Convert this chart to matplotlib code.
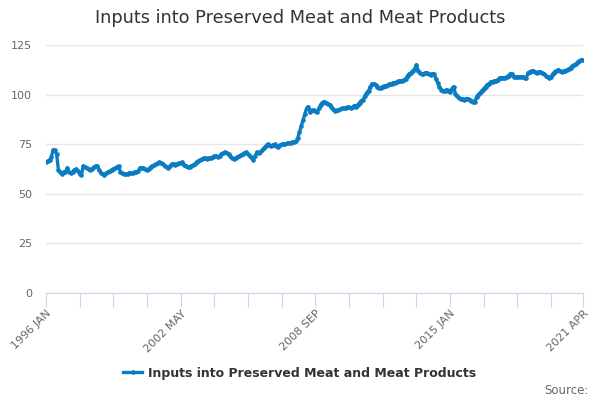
import numpy as np
import matplotlib
matplotlib.use("Agg")
import matplotlib.pyplot as plt

# monthly index values, 1996 JAN .. 2021 APR
values = [
    66, 66.5, 67, 68.5, 72, 72, 70, 62, 61, 60, 61, 61,                          # 1996
    63, 61, 60.5, 61, 62, 62.5, 61.5, 60, 59.5, 64, 63.5, 63,                    # 1997
    62.5, 62, 62.5, 63.5, 64, 64, 62, 60.5, 60, 59.5, 60.5, 61,                  # 1998
    61.5, 62, 62.5, 63, 63.5, 64, 61, 60.5, 60, 60, 60, 60.5,                    # 1999
    60.5, 60.5, 61, 61, 61.5, 63, 63, 63, 62.5, 62, 62.5, 63.5,                  # 2000
    64, 64.5, 65, 65.5, 66, 65.5, 65, 64, 63.5, 63, 64, 65,                      # 2001
    65, 64.5, 65, 65.5, 65.5, 66, 64.5, 64, 63.5, 63.5, 64, 64.5,                # 2002
    65, 66, 66.5, 67, 67.5, 68, 68, 67.5, 68, 68, 68.5, 69,                      # 2003
    69, 68.5, 69, 70, 70.5, 71, 70.5, 70, 69, 68, 67.5, 68,                      # 2004
    68.5, 69, 69.5, 70, 70.5, 71, 70, 69, 68, 67, 69, 71,                        # 2005
    70.5, 71, 72, 73, 74, 75, 74.5, 74, 74.5, 75, 74, 73.5,                      # 2006
    74.5, 75, 75, 75, 75.5, 75.5, 75.5, 76, 76, 76.5, 78, 81,                    # 2007
    84, 87, 90, 93, 94, 91, 92, 92, 91.5, 91, 93, 95,                            # 2008
    96, 96.5, 96, 95.5, 95, 94, 92.5, 91.5, 92, 92, 92.5, 93,                    # 2009
    93, 93, 93.5, 93.5, 93, 93.5, 94.5, 94, 95, 96, 97, 97.5,                    # 2010
    99.5, 101, 102, 104, 105.5, 105.5, 105, 104, 103.5, 103.5, 104, 104.5,       # 2011
    104.5, 105, 105.5, 105.5, 106, 106, 106.5, 107, 107, 107, 107.5, 108,        # 2012
    109.5, 110.5, 111, 112, 113, 115, 112, 111, 110.5, 110.5, 111, 111,          # 2013
    110.5, 110, 110.5, 110.5, 108, 106, 104, 102.5, 102, 102, 102.5, 102,        # 2014
    101.5, 103, 104, 100.5, 99.5, 98.5, 98, 98, 97.5, 98, 98, 97.5,              # 2015
    97, 96.5, 96.5, 99, 100, 101, 102, 103, 104, 105, 105.5, 106.5,              # 2016
    106.5, 107, 107, 107.5, 108.5, 108.5, 108.5, 108.5, 109, 109.5, 110.5, 110.5,  # 2017
    109, 109, 109, 109, 109, 109, 108.5, 108.5, 111, 111.5, 112, 112,            # 2018
    111.5, 111, 111.5, 111.5, 111, 110.5, 109.5, 109, 108.5, 109, 110.5, 111.5,  # 2019
    112, 112.5, 112, 111.5, 112, 112, 112.5, 113, 113.5, 114.5, 115, 115.5,      # 2020
    116.5, 117, 117.5, 117.5,                                                    # 2021
]

months = ["JAN", "FEB", "MAR", "APR", "MAY", "JUN",
          "JUL", "AUG", "SEP", "OCT", "NOV", "DEC"]
categories = [f"{1996 + k // 12} {months[k % 12]}" for k in range(len(values))]

title = "Inputs into Preserved Meat and Meat Products"
line_color = "#0b7cc2"

fig = plt.figure(figsize=(6, 4), dpi=100)
ax = fig.add_axes([46 / 600, 107 / 400, 537 / 600, 248 / 400])

x = np.arange(len(values))
ax.plot(x, values, color=line_color, linewidth=2.4, marker="o",
        markersize=2.3, label=title)

ax.set_xlim(0, len(values) - 1)
ax.set_ylim(0, 125)
ax.set_yticks(np.arange(0, 126, 25))
ax.grid(axis="y", color="#e6e6e6", linewidth=1)
ax.set_axisbelow(True)

# ticks every 19 months, labels every 76
ticks = list(range(0, len(values) - 1, 19)) + [len(values) - 1]
ax.set_xticks(ticks)
ax.set_xticklabels([categories[t] if t % 76 == 0 or t == len(values) - 1 else ""
                    for t in ticks],
                   rotation=45, ha="right", rotation_mode="anchor")
ax.tick_params(axis="x", length=10, color="#ccd6eb", labelsize=8,
               labelcolor="#666666", pad=1)
ax.tick_params(axis="y", length=0, labelsize=8, labelcolor="#666666", pad=10)

for side in ["top", "right", "left"]:
    ax.spines[side].set_visible(False)
ax.spines["bottom"].set_color("#ccd6eb")

fig.text(0.5, 0.955, title, ha="center", va="center", fontsize=12.8,
         color="#333333")

leg = fig.legend(loc="center", bbox_to_anchor=(0.5, 1 - 373 / 400),
                 frameon=False, handlelength=1.5, handletextpad=0.5,
                 fontsize=9)
for t in leg.get_texts():
    t.set_fontweight("bold")
    t.set_color("#333333")

fig.text(589 / 600, 1 - 390 / 400, "Source:", ha="right", va="center",
         fontsize=8.5, color="#666666")

fig.savefig("out.png", dpi=100)
